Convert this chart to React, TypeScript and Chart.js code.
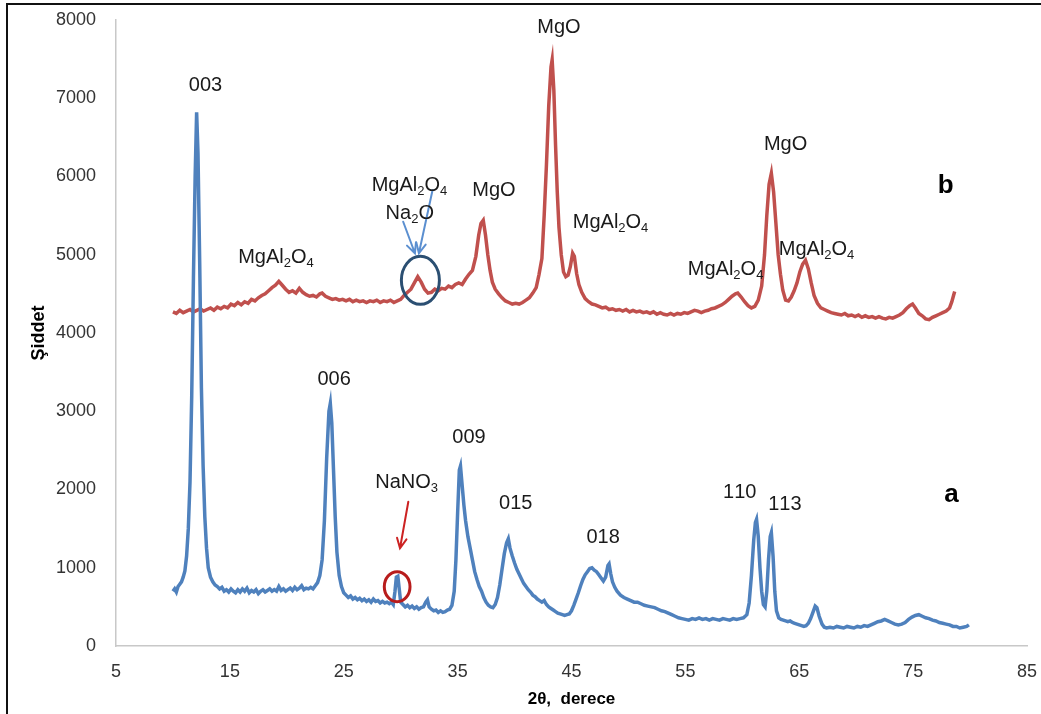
import React, { useEffect, useRef } from 'react';
import { Chart, registerables } from 'chart.js';

Chart.register(...registerables);

const FONT = '"Liberation Sans", Arial, sans-serif';

const xTicks = [5, 15, 25, 35, 45, 55, 65, 75, 85];

// Series a (blue)
const xA = [
  10.0, 10.15, 10.3, 10.45, 10.6, 10.75, 10.9, 11.05, 11.2, 11.35, 11.5, 11.65, 11.8, 11.95, 12.08, 12.2, 12.35, 12.5, 12.65, 12.8,
  12.95, 13.1, 13.3, 13.5, 13.7, 13.9, 14.1, 14.3, 14.5, 14.7, 14.9, 15.1, 15.3, 15.5, 15.7, 15.9, 16.1, 16.3, 16.5, 16.7,
  16.9, 17.1, 17.3, 17.5, 17.7, 17.9, 18.1, 18.3, 18.5, 18.7, 18.9, 19.1, 19.3, 19.5, 19.7, 19.9, 20.1, 20.3, 20.5, 20.7,
  20.9, 21.1, 21.3, 21.5, 21.7, 21.9, 22.1, 22.3, 22.5, 22.7, 22.9, 23.1, 23.3, 23.5, 23.7, 23.82, 23.95, 24.1, 24.25, 24.4,
  24.6, 24.8, 25.0, 25.2, 25.4, 25.6, 25.8, 26.0, 26.2, 26.4, 26.6, 26.8, 27.0, 27.2, 27.4, 27.6, 27.8, 28.0, 28.2, 28.4,
  28.6, 28.8, 29.0, 29.2, 29.35, 29.5, 29.62, 29.75, 29.88, 30.0, 30.2, 30.4, 30.6, 30.8, 31.0, 31.2, 31.4, 31.6, 31.8, 32.0,
  32.2, 32.35, 32.5, 32.7, 32.9, 33.1, 33.3, 33.5, 33.7, 33.9, 34.1, 34.3, 34.5, 34.7, 34.85, 35.0, 35.15, 35.25, 35.4, 35.55,
  35.7, 35.9, 36.1, 36.3, 36.5, 36.7, 36.9, 37.1, 37.3, 37.5, 37.7, 37.9, 38.1, 38.3, 38.5, 38.7, 38.9, 39.1, 39.3, 39.45,
  39.6, 39.8, 40.0, 40.2, 40.4, 40.6, 40.8, 41.0, 41.2, 41.4, 41.6, 41.8, 42.0, 42.2, 42.4, 42.6, 42.8, 43.0, 43.2, 43.4,
  43.6, 43.8, 44.0, 44.2, 44.4, 44.6, 44.8, 45.0, 45.2, 45.4, 45.6, 45.8, 46.0, 46.2, 46.4, 46.6, 46.8, 47.0, 47.2, 47.4,
  47.6, 47.8, 48.0, 48.2, 48.3, 48.45, 48.6, 48.8, 49.0, 49.3, 49.6, 49.9, 50.2, 50.5, 50.8, 51.1, 51.4, 51.7, 52.0, 52.3,
  52.6, 52.9, 53.2, 53.5, 53.8, 54.1, 54.4, 54.7, 55.0, 55.3, 55.6, 55.9, 56.2, 56.5, 56.8, 57.1, 57.4, 57.7, 58.0, 58.3,
  58.6, 58.9, 59.2, 59.5, 59.8, 60.1, 60.4, 60.6, 60.8, 61.0, 61.15, 61.25, 61.4, 61.55, 61.7, 61.85, 62.0, 62.15, 62.3, 62.45,
  62.55, 62.7, 62.85, 63.0, 63.2, 63.4, 63.6, 63.8, 64.0, 64.2, 64.4, 64.6, 64.8, 65.0, 65.2, 65.4, 65.6, 65.8, 66.0, 66.2,
  66.4, 66.55, 66.75, 67.0, 67.2, 67.4, 67.7, 68.0, 68.3, 68.6, 68.9, 69.2, 69.5, 69.8, 70.1, 70.4, 70.7, 71.0, 71.3, 71.6,
  71.9, 72.2, 72.5, 72.8, 73.1, 73.4, 73.7, 74.0, 74.3, 74.6, 74.9, 75.2, 75.5, 75.8, 76.1, 76.4, 76.7, 77.0, 77.3, 77.6,
  77.9, 78.2, 78.5, 78.8, 79.1, 79.4, 79.7, 79.9,
];
const yA = [
  700, 730, 690, 760, 790, 820, 880, 960, 1150, 1500, 2100, 3200, 4700, 6000, 6820, 6300, 4900, 3300, 2300, 1650,
  1250, 1000, 880, 820, 780, 760, 730, 750, 700, 720, 690, 730, 700, 680, 720, 690, 730, 700, 740, 680,
  710, 690, 720, 670, 700, 720, 690, 710, 730, 700, 720, 700, 760, 710, 730, 700, 720, 740, 710, 750,
  720, 740, 770, 720, 740, 730, 750, 730, 770, 810, 900, 1100, 1600, 2400, 3000, 3100, 2850, 2250, 1650, 1200,
  900, 760, 680, 650, 620, 640, 600, 620, 590, 610, 580, 600, 570, 590, 560, 600, 570, 580, 550, 570,
  550, 560, 540, 560, 530, 700, 880, 890, 720, 560, 530, 500, 520, 490, 510, 480, 500, 470, 490, 500,
  560, 590, 500, 470, 450, 460, 430, 450, 430, 440, 460, 470, 520, 700, 1100, 1700, 2250, 2300, 2050, 1800,
  1600, 1400, 1250, 1100, 950, 850, 760, 700, 620, 560, 520, 500, 490, 530, 620, 780, 980, 1180, 1320, 1370,
  1250, 1150, 1060, 980, 920, 860, 800, 760, 720, 690, 650, 630, 600, 580, 560, 580, 530, 500, 480, 460,
  440, 420, 410, 400, 390, 400, 410, 450, 520, 600, 680, 770, 850, 910, 950, 990, 1000, 970, 950, 910,
  870, 830, 880, 1030, 1050, 920, 820, 750, 700, 650, 620, 600, 580, 560, 560, 540, 520, 510, 500, 490,
  470, 450, 440, 420, 400, 380, 360, 350, 340, 330, 350, 340, 360, 340, 350, 330, 350, 340, 330, 350,
  340, 330, 350, 340, 350, 360, 400, 550, 900, 1350, 1580, 1620, 1400, 1000, 700, 530, 500, 700, 1100, 1400,
  1450, 1150, 700, 450, 360, 340, 330, 320, 310, 320, 300, 290, 280, 270, 260, 250, 260, 290, 350, 430,
  510, 490, 380, 280, 240, 230, 240, 230, 250, 240, 230, 250, 240, 230, 250, 240, 260, 250, 270, 290,
  310, 320, 340, 320, 300, 280, 270, 280, 300, 340, 370, 390, 400, 380, 360, 350, 330, 320, 300, 290,
  280, 270, 250, 250, 230, 240, 250, 270,
];

// Series b (red)
const xB = [
  10.0, 10.3, 10.6, 10.9, 11.2, 11.5, 11.8, 12.1, 12.4, 12.7, 13.0, 13.3, 13.6, 13.9, 14.2, 14.5, 14.8, 15.1, 15.4, 15.7,
  16.0, 16.3, 16.6, 16.9, 17.2, 17.5, 17.8, 18.1, 18.4, 18.7, 19.0, 19.3, 19.6, 19.9, 20.2, 20.5, 20.8, 21.1, 21.4, 21.7,
  22.0, 22.3, 22.6, 22.9, 23.1, 23.4, 23.7, 24.0, 24.3, 24.6, 24.9, 25.2, 25.5, 25.8, 26.1, 26.4, 26.7, 27.0, 27.3, 27.6,
  27.9, 28.2, 28.5, 28.8, 29.1, 29.4, 29.7, 30.0, 30.3, 30.6, 30.9, 31.2, 31.5, 31.8, 32.1, 32.4, 32.7, 33.0, 33.3, 33.6,
  33.9, 34.2, 34.5, 34.8, 35.1, 35.4, 35.7, 36.0, 36.3, 36.6, 36.85, 37.05, 37.25, 37.45, 37.65, 37.85, 38.05, 38.3, 38.6, 38.9,
  39.2, 39.5, 39.8, 40.1, 40.4, 40.7, 41.0, 41.3, 41.6, 41.9, 42.15, 42.4, 42.6, 42.8, 43.0, 43.2, 43.3, 43.45, 43.6, 43.75,
  43.9, 44.1, 44.3, 44.5, 44.7, 44.9, 45.1, 45.25, 45.45, 45.65, 45.9, 46.2, 46.5, 46.8, 47.1, 47.4, 47.7, 48.0, 48.3, 48.6,
  48.9, 49.2, 49.5, 49.8, 50.1, 50.4, 50.7, 51.0, 51.3, 51.6, 51.9, 52.2, 52.5, 52.8, 53.1, 53.4, 53.7, 54.0, 54.3, 54.6,
  54.9, 55.2, 55.5, 55.8, 56.1, 56.4, 56.7, 57.0, 57.3, 57.6, 57.9, 58.2, 58.5, 58.8, 59.1, 59.4, 59.6, 59.9, 60.2, 60.5,
  60.8, 61.1, 61.4, 61.7, 61.95, 62.15, 62.35, 62.55, 62.75, 62.95, 63.15, 63.35, 63.55, 63.8, 64.05, 64.3, 64.55, 64.8, 65.05, 65.3,
  65.55, 65.8, 66.05, 66.3, 66.6, 66.9, 67.2, 67.5, 67.8, 68.1, 68.4, 68.7, 69.0, 69.3, 69.6, 69.9, 70.2, 70.5, 70.8, 71.1,
  71.4, 71.7, 72.0, 72.3, 72.6, 72.9, 73.2, 73.5, 73.8, 74.1, 74.4, 74.7, 74.95, 75.2, 75.5, 75.8, 76.1, 76.4, 76.7, 77.0,
  77.3, 77.6, 77.9, 78.2, 78.4, 78.55, 78.65,
];
const yB = [
  4270, 4250, 4290, 4260, 4280, 4300, 4270, 4290, 4310, 4280, 4300, 4320, 4290, 4330, 4310, 4340, 4320, 4370, 4350, 4390,
  4360, 4400, 4380, 4430, 4410, 4450, 4480, 4500, 4540, 4580, 4610, 4660, 4610, 4560, 4520, 4540, 4510, 4570, 4520, 4490,
  4470, 4480, 4460, 4500, 4510, 4470, 4450, 4430, 4440, 4420, 4430, 4410, 4430, 4400, 4420, 4400, 4410, 4390, 4410, 4400,
  4420, 4390, 4410, 4400, 4420, 4390, 4410, 4430, 4480, 4520, 4560, 4640, 4720, 4650, 4560, 4510, 4520, 4560, 4540, 4570,
  4560, 4600, 4580, 4620, 4640, 4620, 4690, 4750, 4800, 4980, 5250, 5400, 5440, 5250, 5000, 4800, 4650, 4560, 4500, 4450,
  4410, 4390, 4370, 4380, 4370, 4390, 4420, 4450, 4510, 4580, 4750, 4950, 5500, 6150, 6900, 7400, 7490, 7100, 6400, 5800,
  5350, 5000, 4780, 4720, 4740, 4850, 5020, 4980, 4760, 4620, 4520, 4440, 4400, 4370, 4360, 4340, 4320, 4330, 4300, 4310,
  4290, 4300, 4280, 4300, 4270, 4290, 4270, 4280, 4260, 4270, 4250, 4270, 4240, 4260, 4240, 4230, 4250, 4230, 4250, 4240,
  4260, 4250, 4270, 4290, 4280, 4260, 4280, 4290, 4310, 4320, 4340, 4360, 4390, 4430, 4470, 4500, 4510, 4460, 4400, 4350,
  4320, 4340, 4420, 4600, 5000, 5500, 5900, 6040, 5800, 5400, 5000, 4750, 4550, 4420, 4410, 4460, 4540, 4640, 4780, 4880,
  4930, 4820, 4640, 4480, 4380, 4320, 4300, 4280, 4260, 4250, 4240, 4230, 4250, 4220, 4230, 4210, 4230, 4200, 4220, 4200,
  4210, 4190, 4210, 4190, 4180, 4200, 4190, 4210, 4230, 4260, 4310, 4350, 4370, 4320, 4250, 4220, 4180, 4170, 4200, 4220,
  4240, 4260, 4280, 4320, 4400, 4480, 4530,
];

// Annotations (data coordinates; '_' marks a subscript character)
const peakLabels = [
  { text: '003', x: 12.86, y: 7185 },
  { text: 'MgAl_2O_4', x: 19.05, y: 4988 },
  { text: 'MgAl_2O_4', x: 30.77, y: 5911 },
  { text: 'Na_2O', x: 30.8, y: 5550 },
  { text: 'MgO', x: 38.19, y: 5840 },
  { text: 'MgO', x: 43.9, y: 7926 },
  { text: 'MgAl_2O_4', x: 48.43, y: 5434 },
  { text: 'MgAl_2O_4', x: 58.53, y: 4837 },
  { text: 'MgO', x: 63.8, y: 6424 },
  { text: 'MgAl_2O_4', x: 66.52, y: 5093 },
  { text: '006', x: 24.15, y: 3421 },
  { text: 'NaNO_3', x: 30.52, y: 2117 },
  { text: '009', x: 36.0, y: 2686 },
  { text: '015', x: 40.1, y: 1844 },
  { text: '018', x: 47.78, y: 1408 },
  { text: '110', x: 59.78, y: 1977 },
  { text: '113', x: 63.74, y: 1834 },
];
const sampleLabels = [
  { text: 'b', x: 77.86, y: 5904 },
  { text: 'a', x: 78.37, y: 1963 },
];
const ellipses = [
  { x: 31.73, y: 4673, rx: 1.67, ry: 307, color: '#2b4f72' },
  { x: 29.69, y: 758, rx: 1.13, ry: 192, color: '#b81c1c' },
];
const arrows = [
  { x1: 30.22, y1: 5422, x2: 31.25, y2: 5019, color: '#5b8fd0' },
  { x1: 32.8, y1: 5827, x2: 31.6, y2: 5019, color: '#5b8fd0' },
  { x1: 30.67, y1: 1844, x2: 29.94, y2: 1249, color: '#cc2222' },
];

function drawRich(ctx: CanvasRenderingContext2D, text: string, cx: number, cy: number, size: number, bold: boolean) {
  const segs: { t: string; sub: boolean }[] = [];
  for (let i = 0; i < text.length; i++) {
    if (text[i] === '_' && i + 1 < text.length) {
      segs.push({ t: text[i + 1], sub: true });
      i++;
    } else {
      segs.push({ t: text[i], sub: false });
    }
  }
  const w = bold ? 'bold ' : '';
  const main = `${w}${size}px ${FONT}`;
  const subf = `${w}${Math.round(size * 0.66)}px ${FONT}`;
  let total = 0;
  for (const s of segs) {
    ctx.font = s.sub ? subf : main;
    total += ctx.measureText(s.t).width;
  }
  let x = cx - total / 2;
  const base = cy + size * 0.358;
  ctx.textAlign = 'left';
  ctx.textBaseline = 'alphabetic';
  for (const s of segs) {
    ctx.font = s.sub ? subf : main;
    ctx.fillText(s.t, x, s.sub ? base + size * 0.2 : base);
    x += ctx.measureText(s.t).width;
  }
}

const annotPlugin = {
  id: 'annot',
  afterDatasetsDraw(chart: any) {
    const ctx: CanvasRenderingContext2D = chart.ctx;
    const xs = chart.scales.x;
    const ys = chart.scales.y;
    ctx.save();
    for (const e of ellipses) {
      const cx = xs.getPixelForValue(e.x);
      const cy = ys.getPixelForValue(e.y);
      const rx = Math.abs(xs.getPixelForValue(e.x + e.rx) - cx);
      const ry = Math.abs(ys.getPixelForValue(e.y + e.ry) - cy);
      ctx.beginPath();
      ctx.ellipse(cx, cy, rx, ry, 0, 0, Math.PI * 2);
      ctx.strokeStyle = e.color;
      ctx.lineWidth = 3;
      ctx.stroke();
    }
    for (const a of arrows) {
      const x1 = xs.getPixelForValue(a.x1);
      const y1 = ys.getPixelForValue(a.y1);
      const x2 = xs.getPixelForValue(a.x2);
      const y2 = ys.getPixelForValue(a.y2);
      const ang = Math.atan2(y2 - y1, x2 - x1);
      ctx.strokeStyle = a.color;
      ctx.lineWidth = 2;
      ctx.lineCap = 'round';
      ctx.beginPath();
      ctx.moveTo(x1, y1);
      ctx.lineTo(x2, y2);
      const hl = 11;
      ctx.moveTo(x2 - hl * Math.cos(ang - 0.45), y2 - hl * Math.sin(ang - 0.45));
      ctx.lineTo(x2, y2);
      ctx.lineTo(x2 - hl * Math.cos(ang + 0.45), y2 - hl * Math.sin(ang + 0.45));
      ctx.stroke();
    }
    ctx.fillStyle = '#1a1a1a';
    for (const l of peakLabels) {
      drawRich(ctx, l.text, xs.getPixelForValue(l.x), ys.getPixelForValue(l.y), 20, false);
    }
    ctx.fillStyle = '#000';
    for (const l of sampleLabels) {
      drawRich(ctx, l.text, xs.getPixelForValue(l.x), ys.getPixelForValue(l.y), 26, true);
    }
    ctx.restore();
  },
};

export default function App() {
  const ref = useRef<HTMLCanvasElement | null>(null);
  useEffect(() => {
    if (!ref.current) return;
    const chart = new Chart(ref.current, {
      type: 'line',
      data: {
        datasets: [
          {
            label: 'a',
            data: xA.map((x, i) => ({ x, y: yA[i] })),
            borderColor: '#4f81bd',
            borderWidth: 3.5,
            pointRadius: 0,
            fill: false,
            tension: 0,
          },
          {
            label: 'b',
            data: xB.map((x, i) => ({ x, y: yB[i] })),
            borderColor: '#c0504d',
            borderWidth: 3.5,
            pointRadius: 0,
            fill: false,
            tension: 0,
          },
        ],
      },
      options: {
        responsive: false,
        animation: false,
        devicePixelRatio: 1,
        layout: { padding: { left: 0, right: 14, top: 20, bottom: 0 } },
        plugins: { legend: { display: false }, tooltip: { enabled: false } },
        scales: {
          x: {
            type: 'linear',
            min: 5,
            max: 85,
            afterBuildTicks: (s: any) => {
              s.ticks = xTicks.map((v) => ({ value: v }));
            },
            afterFit: (s: any) => {
              s.height = 68;
              s.paddingLeft = 0;
              s.paddingRight = 0;
            },
            grid: { display: false, drawTicks: false },
            border: { display: true, color: '#c8c8c8', width: 1.5 },
            ticks: {
              padding: 15,
              autoSkip: false,
              maxRotation: 0,
              color: '#333',
              font: { size: 18, family: FONT },
              callback: (v: any) => String(v),
            },
            title: {
              display: true,
              text: '2θ,  derece',
              color: '#000',
              font: { size: 17, weight: 'bold', family: FONT },
              padding: { top: 0, bottom: 4 },
            },
          },
          y: {
            min: 0,
            max: 8000,
            afterFit: (s: any) => {
              s.width = 116;
              s.paddingTop = 0;
              s.paddingBottom = 0;
            },
            grid: { display: false, drawTicks: false },
            border: { display: true, color: '#c8c8c8', width: 1.5 },
            ticks: {
              stepSize: 1000,
              padding: 20,
              color: '#333',
              font: { size: 18, family: FONT },
              callback: (v: any) => String(v),
            },
            title: {
              display: true,
              text: 'Şiddet',
              color: '#000',
              font: { size: 18, weight: 'bold', family: FONT },
              padding: { top: 28, bottom: 0 },
            },
          },
        },
      },
      plugins: [annotPlugin],
    } as any);
    return () => chart.destroy();
  }, []);

  return (
    <div style={{ position: 'fixed', left: 0, top: 0, width: 1041, height: 714, background: '#fff', overflow: 'hidden' }}>
      <div
        style={{
          position: 'absolute',
          left: 6,
          top: 3,
          width: 1035,
          height: 711,
          borderLeft: '2px solid #111',
          borderTop: '2px solid #111',
          boxSizing: 'border-box',
        }}
      />
      <canvas ref={ref} width={1041} height={714} style={{ position: 'absolute', left: 0, top: 0 }} />
    </div>
  );
}
